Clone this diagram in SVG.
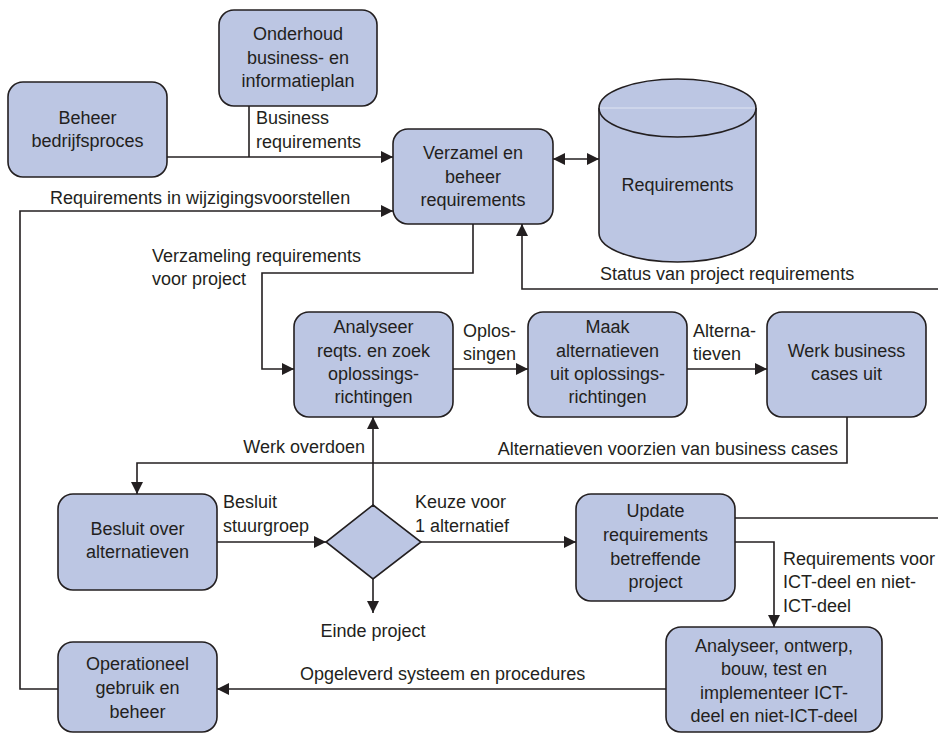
<svg xmlns="http://www.w3.org/2000/svg" width="938" height="734" viewBox="0 0 938 734">
  <style>
    .box { fill: #bcc6e3; stroke: #231f20; stroke-width: 1.6; }
    .ln { fill: none; stroke: #231f20; stroke-width: 1.6; }
    text { font-family: "Liberation Sans", Arial, sans-serif; font-size: 18px; fill: #231f20; }
    .c { text-anchor: middle; }
    .e { text-anchor: end; }
  </style>
  <defs>
    <marker id="arrow" viewBox="0 0 12 12" refX="12" refY="6" markerWidth="12" markerHeight="12" markerUnits="userSpaceOnUse" orient="auto-start-reverse">
      <path d="M0,0 L12,6 L0,12 Z" fill="#231f20"/>
    </marker>
  </defs>

  <rect width="938" height="734" fill="#ffffff"/>

  <!-- connectors -->
  <g id="connectors">
    <!-- Beheer bedrijfsproces -> Verzamel -->
    <path class="ln" d="M167,157 H393" marker-end="url(#arrow)"/>
    <!-- Onderhoud joins the business requirements line -->
    <path class="ln" d="M249,106 V157"/>
    <!-- Operationeel -> Verzamel (wijzigingsvoorstellen) -->
    <path class="ln" d="M58,689 H20 V211 H393" marker-end="url(#arrow)"/>
    <!-- Verzamel <-> Requirements store -->
    <path class="ln" d="M553,159 H599" marker-start="url(#arrow)" marker-end="url(#arrow)"/>
    <!-- Verzamel -> Analyseer -->
    <path class="ln" d="M473,224 V273 H262 V369 H294" marker-end="url(#arrow)"/>
    <!-- Status van project requirements -->
    <path class="ln" d="M938,289 H522 V224" marker-end="url(#arrow)"/>
    <!-- Analyseer -> Maak -->
    <path class="ln" d="M453,369 H528" marker-end="url(#arrow)"/>
    <!-- Maak -> Werk business cases -->
    <path class="ln" d="M687,369 H767" marker-end="url(#arrow)"/>
    <!-- Werk business cases -> Besluit -->
    <path class="ln" d="M847,417 V463 H137 V494" marker-end="url(#arrow)"/>
    <!-- Besluit -> decision -->
    <path class="ln" d="M217,542 H326" marker-end="url(#arrow)"/>
    <!-- decision -> Analyseer (werk overdoen) -->
    <path class="ln" d="M373,505 V417" marker-end="url(#arrow)"/>
    <!-- decision -> einde project -->
    <path class="ln" d="M373,579 V613" marker-end="url(#arrow)"/>
    <!-- decision -> Update -->
    <path class="ln" d="M421,542 H576" marker-end="url(#arrow)"/>
    <!-- Update -> right edge -->
    <path class="ln" d="M735,518 H938"/>
    <!-- Update -> Analyseer, ontwerp -->
    <path class="ln" d="M735,542 H774 V627" marker-end="url(#arrow)"/>
    <!-- Analyseer, ontwerp -> Operationeel -->
    <path class="ln" d="M666,689 H217" marker-end="url(#arrow)"/>
  </g>

  <!-- connector labels -->
  <g id="labels">
    <text x="256" y="124">Business</text>
    <text x="256" y="148">requirements</text>
    <text x="50" y="204">Requirements in wijzigingsvoorstellen</text>
    <text x="152" y="262">Verzameling requirements</text>
    <text x="152" y="285">voor project</text>
    <text x="600" y="280">Status van project requirements</text>
    <text x="463" y="337">Oplos-</text>
    <text x="463" y="360">singen</text>
    <text x="693" y="337">Alterna-</text>
    <text x="693" y="360">tieven</text>
    <text x="365" y="453" class="e">Werk overdoen</text>
    <text x="838" y="455" class="e">Alternatieven voorzien van business cases</text>
    <text x="223" y="508">Besluit</text>
    <text x="223" y="532">stuurgroep</text>
    <text x="415" y="508">Keuze voor</text>
    <text x="415" y="532">1 alternatief</text>
    <text x="373" y="637" class="c">Einde project</text>
    <text x="783" y="565">Requirements voor</text>
    <text x="783" y="588">ICT-deel en niet-</text>
    <text x="783" y="612">ICT-deel</text>
    <text x="300" y="680">Opgeleverd systeem en procedures</text>
  </g>

  <!-- nodes -->
  <g id="onderhoud">
    <rect class="box" x="219" y="10" width="158" height="96" rx="15"/>
    <text x="298" y="40" class="c">Onderhoud</text>
    <text x="298" y="64" class="c">business- en</text>
    <text x="298" y="87" class="c">informatieplan</text>
  </g>

  <g id="beheer-bedrijfsproces">
    <rect class="box" x="8" y="82" width="159" height="95" rx="15"/>
    <text x="87.5" y="124" class="c">Beheer</text>
    <text x="87.5" y="147" class="c">bedrijfsproces</text>
  </g>

  <g id="verzamel">
    <rect class="box" x="393" y="129" width="160" height="95" rx="15"/>
    <text x="473" y="159" class="c">Verzamel en</text>
    <text x="473" y="183" class="c">beheer</text>
    <text x="473" y="206" class="c">requirements</text>
  </g>

  <g id="requirements-store">
    <path class="box" d="M599,108 V233 A78.5,29 0 0 0 756,233 V108"/>
    <ellipse class="box" cx="677.5" cy="108" rx="78.5" ry="29"/>
    <line x1="600" y1="108" x2="755" y2="108" stroke="#dfe4f2" stroke-width="1"/>
    <text x="677.5" y="191" class="c">Requirements</text>
  </g>

  <g id="analyseer-reqts">
    <rect class="box" x="294" y="312" width="159" height="105" rx="15"/>
    <text x="373.5" y="333" class="c">Analyseer</text>
    <text x="373.5" y="357" class="c">reqts. en zoek</text>
    <text x="373.5" y="380" class="c">oplossings-</text>
    <text x="373.5" y="403" class="c">richtingen</text>
  </g>

  <g id="maak-alternatieven">
    <rect class="box" x="528" y="312" width="159" height="105" rx="15"/>
    <text x="607.5" y="333" class="c">Maak</text>
    <text x="607.5" y="357" class="c">alternatieven</text>
    <text x="607.5" y="380" class="c">uit oplossings-</text>
    <text x="607.5" y="403" class="c">richtingen</text>
  </g>

  <g id="werk-business-cases">
    <rect class="box" x="767" y="312" width="159" height="105" rx="15"/>
    <text x="846.5" y="357" class="c">Werk business</text>
    <text x="846.5" y="380" class="c">cases uit</text>
  </g>

  <g id="besluit">
    <rect class="box" x="58" y="494" width="159" height="96" rx="15"/>
    <text x="137.5" y="535" class="c">Besluit over</text>
    <text x="137.5" y="558" class="c">alternatieven</text>
  </g>

  <g id="keuze">
    <path class="box" d="M373,505 L421,542 L373,579 L326,542 Z"/>
  </g>

  <g id="update-requirements">
    <rect class="box" x="576" y="494" width="159" height="107" rx="15"/>
    <text x="655.5" y="517" class="c">Update</text>
    <text x="655.5" y="541" class="c">requirements</text>
    <text x="655.5" y="565" class="c">betreffende</text>
    <text x="655.5" y="588" class="c">project</text>
  </g>

  <g id="analyseer-ontwerp">
    <rect class="box" x="666" y="627" width="216" height="105" rx="15"/>
    <text x="774" y="652" class="c">Analyseer, ontwerp,</text>
    <text x="774" y="675" class="c">bouw, test en</text>
    <text x="774" y="699" class="c">implementeer ICT-</text>
    <text x="774" y="722" class="c">deel en niet-ICT-deel</text>
  </g>

  <g id="operationeel">
    <rect class="box" x="58" y="642" width="159" height="90" rx="15"/>
    <text x="137.5" y="670" class="c">Operationeel</text>
    <text x="137.5" y="694" class="c">gebruik en</text>
    <text x="137.5" y="718" class="c">beheer</text>
  </g>
</svg>
